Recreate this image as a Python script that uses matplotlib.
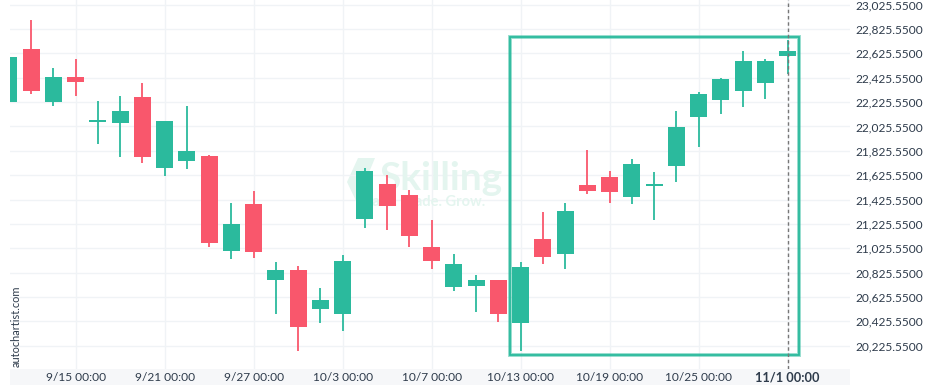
import matplotlib
matplotlib.use("Agg")
import matplotlib.pyplot as plt
from matplotlib.patches import Rectangle, Polygon

plt.rcParams["font.family"] = ["Lato", "DejaVu Sans"]

# ---- data ----
opens = [22229.1, 22661.5, 22229.1, 22431.6, 22064.9, 22056.7, 22267.4, 21687.2,
         21744.6, 21783.0, 21005.6, 21388.8, 20767.5, 20846.9, 20529.4, 20488.3,
         21268.4, 21553.1, 21462.7, 21035.7, 20710.0, 20718.3, 20764.8, 20414.5,
         21101.4, 20981.0, 21544.8, 21610.5, 21449.0, 21539.3, 21703.6, 22105.9,
         22245.5, 22319.4, 22385.1, 22606.8]
highs = [22620.0, 22899.6, 22502.8, 22576.7, 22231.8, 22272.9, 22379.6, 22070.3,
         22190.8, 21788.4, 21397.1, 21492.8, 20912.6, 20877.0, 20696.4, 20967.3,
         21681.7, 21627.0, 21501.0, 21254.7, 20978.3, 20803.1, 20768.0, 20909.8,
         21323.1, 21394.3, 21829.5, 21657.1, 21755.6, 21648.8, 22149.7, 22308.4,
         22420.7, 22645.1, 22576.7, 22735.4]
lows = [22200.0, 22294.8, 22196.2, 22278.4, 21884.2, 21772.0, 21728.2, 21616.0,
        21673.4, 21033.0, 20934.5, 20942.7, 20482.9, 20179.0, 20409.0, 20343.3,
        21194.5, 21172.6, 21033.0, 20852.4, 20677.2, 20499.3, 20417.2, 20179.0,
        20893.4, 20852.4, 21473.7, 21394.3, 21386.1, 21254.7, 21566.7, 21854.1,
        22130.5, 22188.0, 22248.2, 22453.5]
closes = [22595.8, 22319.4, 22431.6, 22393.3, 22078.5, 22152.4, 21777.5, 22070.3,
          21824.0, 21071.4, 21224.6, 20997.4, 20846.9, 20381.6, 20600.6, 20920.8,
          21659.8, 21375.1, 21128.8, 20923.5, 20896.2, 20764.8, 20488.3, 20871.5,
          20956.4, 21331.3, 21498.3, 21490.1, 21717.3, 21555.8, 22021.0, 22292.0,
          22415.2, 22563.0, 22563.0, 22645.1]

tick_idx = [3, 7, 11, 15, 19, 23, 27, 31, 35]
tick_labels = ["9/15 00:00", "9/21 00:00", "9/27 00:00", "10/3 00:00", "10/7 00:00",
               "10/13 00:00", "10/19 00:00", "10/25 00:00", "11/1 00:00"]
price_ticks = [20225.55 + 200 * k for k in range(15)]

# pattern box: from candle index to candle index, price range
box_start, box_end = 22.5, 35.5
box_low, box_high = 20146.0, 22763.0

UP = "#2bba9d"
DOWN = "#f9576c"
TEXT = "#2e3b4b"
GRID = "#f0f3f6"
WM = "#e4f5ef"

fig = plt.figure(figsize=(9.36, 3.9), dpi=100)
W, H = 936, 390

# x-axis label strip (behind everything)
fig.patches.append(Rectangle((10 / W, 5 / H), 840 / W, 16 / H, transform=fig.transFigure,
                             facecolor="#f6f7f9", edgecolor="none", zorder=-5))

ax = fig.add_axes([10 / W, 21 / H, 840 / W, 369 / H])
ax.patch.set_alpha(0)

x = list(range(len(opens)))
colors = [UP if c >= o else DOWN for o, c in zip(opens, closes)]
bottoms = [min(o, c) for o, c in zip(opens, closes)]
heights = [max(abs(c - o), 12) for o, c in zip(opens, closes)]

ax.vlines(x, lows, highs, colors=colors, linewidth=1.3, zorder=3)
ax.bar(x, heights, bottom=bottoms, width=0.76, color=colors, linewidth=0, zorder=4)

# watermark
ax.text(0.513, 0.515, "Skilling", transform=ax.transAxes, fontsize=28, color=WM,
        ha="center", va="center", zorder=1, fontweight="bold")
ax.text(0.49, 0.452, "Learn. Trade. Grow.", transform=ax.transAxes, fontsize=10.5, color=WM,
        ha="center", va="center", zorder=1, fontweight="bold")
logo = [(375, 158), (358, 158), (347, 182), (358, 205), (375, 205), (365, 182)]
fig.patches.append(Polygon([(px / W, 1 - py / H) for px, py in logo], closed=True,
                           transform=fig.transFigure, facecolor=WM, edgecolor="none",
                           zorder=-4))

# highlight box
ax.add_patch(Rectangle((box_start, box_low), box_end - box_start, box_high - box_low,
                       fill=False, edgecolor=UP, alpha=0.5, linewidth=2.8, zorder=5))
ax.add_patch(Rectangle((box_start, box_low), box_end - box_start, box_high - box_low,
                       fill=False, edgecolor=UP, linewidth=1.3, zorder=5))

# current-bar marker
ax.axvline(x[-1], color="#777777", linestyle=(0, (2.5, 2)), linewidth=1, zorder=6)

ax.set_xlim(0.047, 37.8)
ax.set_ylim(20034, 23064)
ax.set_xticks(tick_idx)
ax.set_xticklabels(tick_labels)
ax.set_yticks(price_ticks)
ax.set_yticklabels([f"{v:,.4f}" for v in price_ticks])
ax.yaxis.tick_right()
ax.tick_params(axis="y", length=0, pad=4, labelsize=8.6, labelcolor=TEXT)
ax.tick_params(axis="x", length=0, pad=2, labelsize=8.6, labelcolor=TEXT)
ax.get_xticklabels()[-1].set_fontweight("bold")
ax.get_xticklabels()[-1].set_fontsize(9.2)

ax.grid(True, color=GRID, linewidth=1, zorder=0)
ax.set_axisbelow(True)
for s in ax.spines.values():
    s.set_visible(False)

fig.text(16 / W, 23 / H, "autochartist.com", rotation=90, fontsize=7.9, color=TEXT,
         ha="center", va="bottom")

fig.savefig("out.png", dpi=100)
